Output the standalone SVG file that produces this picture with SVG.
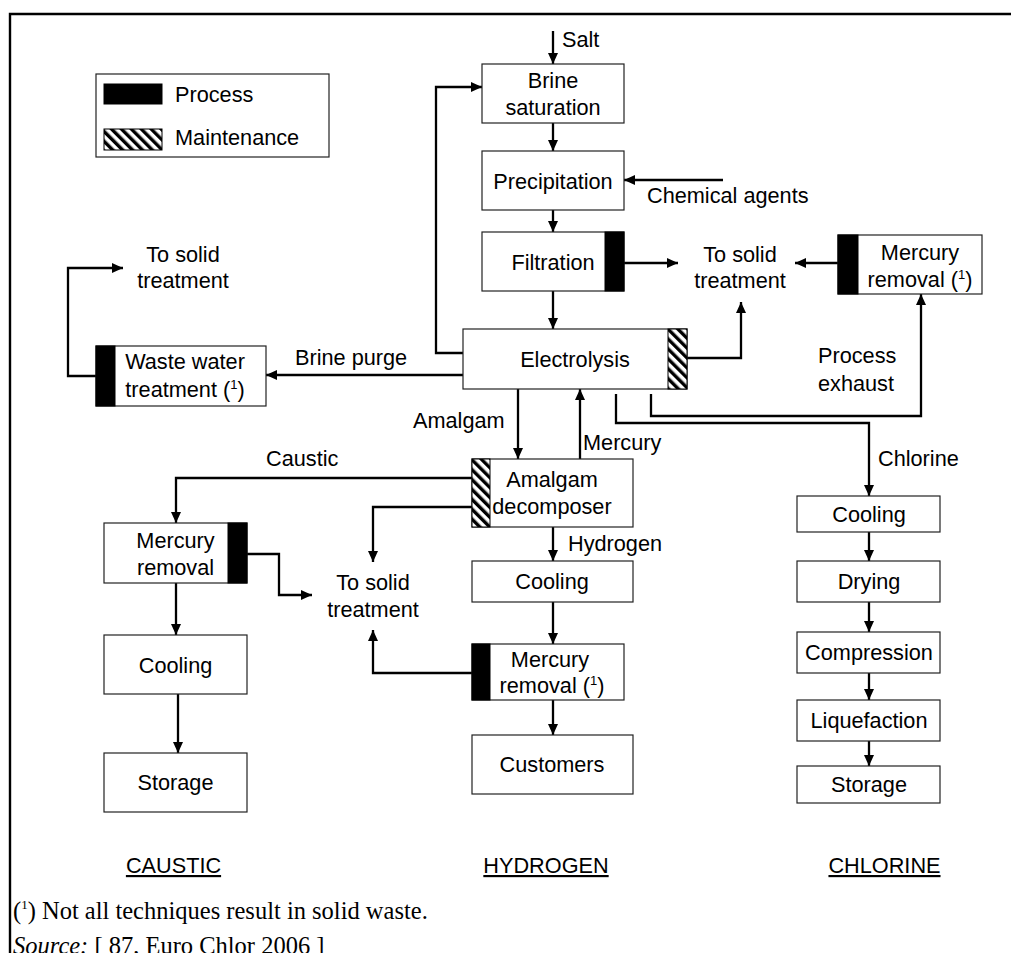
<svg xmlns="http://www.w3.org/2000/svg" width="1011" height="953" viewBox="0 0 1011 953">
<style>
text{font-family:"Liberation Sans",Arial,sans-serif;font-size:21.7px;fill:#000}
.c{text-anchor:middle}
.box{fill:#fff;stroke:#222;stroke-width:1.2}
.bar{fill:#000;stroke:#000;stroke-width:1}
.hatch{fill:url(#hatch);stroke:#000;stroke-width:1}
.con{fill:none;stroke:#000;stroke-width:2.3}
.arr{marker-end:url(#ah)}
.fn{font-family:"Liberation Serif","Times New Roman",serif;font-size:24.5px}
.sup{font-size:13px}
.u{text-decoration:underline}
</style>
<defs>
<pattern id="hatch" patternUnits="userSpaceOnUse" width="7" height="7" patternTransform="rotate(-45)">
<rect x="0" y="0" width="7" height="7" fill="#fff"/>
<rect x="0" y="0" width="3.4" height="7" fill="#000"/>
</pattern>
<marker id="ah" markerUnits="userSpaceOnUse" markerWidth="12" markerHeight="11" refX="11" refY="5" orient="auto">
<path d="M0,0 L11,5 L0,10 Z" fill="#000"/>
</marker>
</defs>
<rect width="1011" height="953" fill="#fff"/>
<path d="M10,953 V14 H1011" fill="none" stroke="#000" stroke-width="2.4"/>

<g id="legend">
<rect class="box" x="96" y="74" width="233" height="83"/>
<rect class="bar" x="104" y="84" width="58" height="20"/>
<text x="175" y="102">Process</text>
<rect class="hatch" x="104" y="129" width="58" height="21"/>
<text x="175" y="145">Maintenance</text>
</g>

<g id="connectors">
<path class="con arr" d="M553,31 V64"/>
<path class="con arr" d="M553,123 V151"/>
<path class="con arr" d="M723,180 H624"/>
<path class="con arr" d="M553,210 V232"/>
<path class="con arr" d="M624,263 H678"/>
<path class="con arr" d="M553,291 V329"/>
<path class="con arr" d="M463,353 H436 V87 H482"/>
<path class="con arr" d="M463,375 H266"/>
<path class="con arr" d="M96,376 H68 V268 H123"/>
<path class="con arr" d="M687,358 H741 V302"/>
<path class="con arr" d="M838,263 H795"/>
<path class="con arr" d="M651,394 V416 H921 V294"/>
<path class="con arr" d="M616,394 V423 H869 V496"/>
<path class="con arr" d="M518,389 V459"/>
<path class="con arr" d="M580,459 V389"/>
<path class="con arr" d="M472,478 H176 V523"/>
<path class="con arr" d="M472,507 H373 V562"/>
<path class="con arr" d="M553,527 V561"/>
<path class="con arr" d="M553,602 V644"/>
<path class="con arr" d="M472,673 H373 V630"/>
<path class="con arr" d="M553,700 V735"/>
<path class="con arr" d="M247,554 H279 V595 H312"/>
<path class="con arr" d="M176,583 V635"/>
<path class="con arr" d="M178,694 V753"/>
<path class="con arr" d="M869,532 V561"/>
<path class="con arr" d="M869,602 V632"/>
<path class="con arr" d="M869,673 V700"/>
<path class="con arr" d="M869,741 V766"/>
</g>

<g id="labels">
<text x="562" y="47">Salt</text>
<text x="647" y="203">Chemical agents</text>
<text class="c" x="183" y="262">To solid</text>
<text class="c" x="183" y="288">treatment</text>
<text class="c" x="740" y="262">To solid</text>
<text class="c" x="740" y="288">treatment</text>
<text x="295" y="365">Brine purge</text>
<text x="818" y="363">Process</text>
<text x="818" y="391">exhaust</text>
<text x="413" y="428">Amalgam</text>
<text x="583" y="450">Mercury</text>
<text x="266" y="466">Caustic</text>
<text x="878" y="466">Chlorine</text>
<text x="568" y="551">Hydrogen</text>
<text class="c" x="373" y="590">To solid</text>
<text class="c" x="373" y="617">treatment</text>
</g>

<g id="brine-saturation">
<rect class="box" x="482" y="64" width="142" height="59"/>
<text class="c" x="553" y="88">Brine</text>
<text class="c" x="553" y="115">saturation</text>
</g>
<g id="precipitation">
<rect class="box" x="482" y="151" width="142" height="59"/>
<text class="c" x="553" y="188.5">Precipitation</text>
</g>
<g id="filtration">
<rect class="box" x="482" y="232" width="142" height="59"/>
<rect class="bar" x="605" y="232" width="19" height="59"/>
<text class="c" x="553" y="269.5">Filtration</text>
</g>
<g id="electrolysis">
<rect class="box" x="463" y="329" width="224" height="60"/>
<rect class="hatch" x="668" y="329" width="19" height="60"/>
<text class="c" x="575" y="366.5">Electrolysis</text>
</g>
<g id="waste-water">
<rect class="box" x="96" y="346" width="170" height="60"/>
<rect class="bar" x="96" y="346" width="19" height="60"/>
<text class="c" x="185" y="369">Waste water</text>
<text class="c" x="185" y="397">treatment (<tspan class="sup" dy="-8">1</tspan><tspan dy="8">)</tspan></text>
</g>
<g id="mercury-removal-chlorine">
<rect class="box" x="838" y="235" width="144" height="59"/>
<rect class="bar" x="838" y="235" width="20" height="59"/>
<text class="c" x="920" y="259.5">Mercury</text>
<text class="c" x="920" y="286.5">removal (<tspan class="sup" dy="-8">1</tspan><tspan dy="8">)</tspan></text>
</g>
<g id="amalgam-decomposer">
<rect class="box" x="472" y="459" width="161" height="68"/>
<rect class="hatch" x="472" y="459" width="18" height="68"/>
<text class="c" x="552" y="487">Amalgam</text>
<text class="c" x="552" y="514">decomposer</text>
</g>
<g id="caustic-mercury-removal">
<rect class="box" x="104" y="523" width="143" height="60"/>
<rect class="bar" x="228" y="523" width="19" height="60"/>
<text class="c" x="175.5" y="548">Mercury</text>
<text class="c" x="175.5" y="575">removal</text>
</g>
<g id="caustic-cooling">
<rect class="box" x="104" y="635" width="143" height="59"/>
<text class="c" x="175.5" y="672.5">Cooling</text>
</g>
<g id="caustic-storage">
<rect class="box" x="104" y="753" width="143" height="59"/>
<text class="c" x="175.5" y="790">Storage</text>
</g>
<g id="hydrogen-cooling">
<rect class="box" x="472" y="561" width="161" height="41"/>
<text class="c" x="552" y="589">Cooling</text>
</g>
<g id="hydrogen-mercury-removal">
<rect class="box" x="472" y="644" width="152" height="56"/>
<rect class="bar" x="472" y="644" width="18" height="56"/>
<text class="c" x="550" y="667">Mercury</text>
<text class="c" x="552" y="693">removal (<tspan class="sup" dy="-8">1</tspan><tspan dy="8">)</tspan></text>
</g>
<g id="customers">
<rect class="box" x="472" y="735" width="161" height="59"/>
<text class="c" x="552" y="772">Customers</text>
</g>
<g id="chlorine-cooling">
<rect class="box" x="797" y="496" width="143" height="36"/>
<text class="c" x="869" y="521.5">Cooling</text>
</g>
<g id="drying">
<rect class="box" x="797" y="561" width="143" height="41"/>
<text class="c" x="869" y="589">Drying</text>
</g>
<g id="compression">
<rect class="box" x="797" y="632" width="143" height="41"/>
<text class="c" x="869" y="660">Compression</text>
</g>
<g id="liquefaction">
<rect class="box" x="797" y="700" width="143" height="41"/>
<text class="c" x="869" y="728">Liquefaction</text>
</g>
<g id="chlorine-storage">
<rect class="box" x="797" y="766" width="143" height="37"/>
<text class="c" x="869" y="792">Storage</text>
</g>

<g id="column-titles">
<text class="c u" x="173.5" y="873">CAUSTIC</text>
<text class="c u" x="546" y="873">HYDROGEN</text>
<text class="c u" x="884.5" y="873">CHLORINE</text>
</g>
<g id="footnotes">
<text class="fn" x="13" y="919">(<tspan class="sup" dy="-10">1</tspan><tspan dy="10">) Not all techniques result in solid waste.</tspan></text>
<text class="fn" x="13" y="954"><tspan font-style="italic">Source:</tspan> [ 87, Euro Chlor 2006 ]</text>
</g>
</svg>
